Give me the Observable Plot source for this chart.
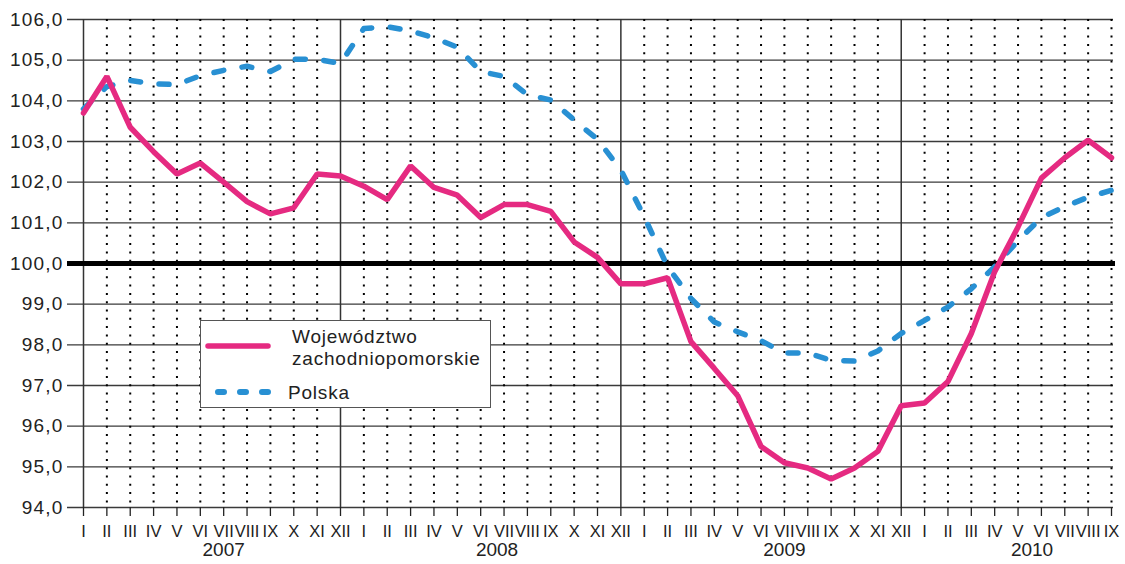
<!DOCTYPE html>
<html>
<head>
<meta charset="utf-8">
<script src="https://cdn.jsdelivr.net/npm/d3@7"></script>
<script src="https://cdn.jsdelivr.net/npm/@observablehq/plot@0.6"></script>
<style>
  body { margin: 0; background: #fff; }
  #wrap { position: relative; width: 1125px; height: 564px; font-family: "Liberation Sans", Arial, sans-serif; color: #222; }
  #legend { position: absolute; left: 200px; top: 320px; width: 291px; height: 88px; box-sizing: border-box; border: 1px solid #555; background: #fff; }
  #legend svg { position: absolute; left: -1px; top: -1px; overflow: visible; }
</style>
</head>
<body>
<div id="wrap"><div id="legend"></div></div>
<script>
// ---- data ----
const romanMonths = ["I","II","III","IV","V","VI","VII","VIII","IX","X","XI","XII"];
const years = ["2007", "2008", "2009", "2010"];
const monthsPerYear = [12, 12, 12, 9];
const yearLabelMonth = [6, 17.7, 30, 40.6]; // month index under which each year label sits
const seriesNames = ["Województwo\nzachodniopomorskie", "Polska"];

const wojewodztwo = [
  103.70, 104.60, 103.35, 102.75, 102.20, 102.47, 102.00, 101.52, 101.22, 101.37, 102.20, 102.15,
  101.90, 101.57, 102.40, 101.87, 101.68, 101.13, 101.45, 101.45, 101.28, 100.53, 100.15, 99.50,
  99.50, 99.65, 98.08, 97.42, 96.75, 95.50, 95.10, 94.97, 94.70, 94.97, 95.38, 96.50,
  96.57, 97.10, 98.28, 99.80, 100.90, 102.10, 102.60, 103.03, 102.60
];
const polska = [
  103.80, 104.35, 104.50, 104.42, 104.40, 104.62, 104.75, 104.85, 104.72, 105.02, 105.02, 104.92,
  105.78, 105.82, 105.72, 105.55, 105.32, 104.72, 104.60, 104.15, 104.02, 103.53, 103.05, 102.30,
  101.15, 99.92, 99.14, 98.56, 98.32, 98.10, 97.80, 97.80, 97.62, 97.60, 97.85, 98.28,
  98.60, 98.93, 99.38, 99.92, 100.56, 101.13, 101.40, 101.63, 101.80
];
const yTicks = [94, 95, 96, 97, 98, 99, 100, 101, 102, 103, 104, 105, 106];
const baseline = 100;

// ---- derived ----
const monthLabels = monthsPerYear.flatMap(n => romanMonths.slice(0, n));
const idx = d3.range(monthLabels.length);
const boundaries = idx.filter(i => i === 0 || monthLabels[i] === "XII");
const dotted = idx.filter(i => !boundaries.includes(i));
const wojRows = wojewodztwo.map((v, i) => ({i, v}));
const polRows = polska.map((v, i) => ({i, v}));
const yearRows = years.map((y, k) => ({y, x: yearLabelMonth[k]}));

const pink = "#e52a81";
const blue = "#2890d3";

const chart = Plot.plot({
  width: 1125,
  height: 564,
  marginLeft: 83,
  marginRight: 14,
  marginTop: 19,
  marginBottom: 57,
  x: {domain: [0, idx.length - 1], label: null},
  y: {domain: [yTicks[0], yTicks[yTicks.length - 1]], label: null},
  style: {fontFamily: '"Liberation Sans", Arial, sans-serif', fontSize: "19px", color: "#222", background: "#fff", overflow: "visible"},
  marks: [
    Plot.ruleY(yTicks, {stroke: "#3a3a3a", strokeWidth: 1.3, insetLeft: -16, insetRight: -2}),
    Plot.ruleX(dotted, {stroke: "#000", strokeWidth: 2, strokeDasharray: "2,6.3"}),
    Plot.ruleX(boundaries, {stroke: "#333", strokeWidth: 1.5}),
    Plot.axisX({ticks: idx, tickFormat: i => monthLabels[i], label: null, tickSize: 9, tickPadding: 9, fontSize: 16.5, stroke: "#222", strokeWidth: 1.3}),
    Plot.axisY({ticks: yTicks, tickFormat: d => d.toFixed(1).replace(".", ","), label: null, tickSize: 0, tickPadding: 20, fontSize: 19}),
    Plot.ruleY([baseline], {stroke: "#000", strokeWidth: 5, insetLeft: -16, insetRight: -4}),
    Plot.line(polRows, {x: "i", y: "v", stroke: blue, strokeWidth: 5.5, strokeDasharray: "10,18.5", strokeLinecap: "round"}),
    Plot.line(wojRows, {x: "i", y: "v", stroke: pink, strokeWidth: 5.5, strokeLinejoin: "miter"}),
    Plot.text(yearRows, {x: "x", text: "y", frameAnchor: "bottom", dy: 48, fontSize: 19, fill: "#222"})
  ]
});

d3.select(chart).selectAll('g[aria-label="y-axis tick label"] text').style("letter-spacing", "1.2px");
document.getElementById("wrap").prepend(chart);

// ---- legend ----
const lg = d3.select("#legend").append("svg").attr("width", 291).attr("height", 88)
  .style("font-family", '"Liberation Sans", Arial, sans-serif').style("font-size", "19px");
lg.append("line").attr("x1", 8).attr("x2", 68).attr("y1", 26).attr("y2", 26)
  .attr("stroke", pink).attr("stroke-width", 5.5).attr("stroke-linecap", "round");
lg.append("line").attr("x1", 18).attr("x2", 72).attr("y1", 72).attr("y2", 72)
  .attr("stroke", blue).attr("stroke-width", 6).attr("stroke-linecap", "round").attr("stroke-dasharray", "6,16");
const t1 = lg.append("text").attr("x", 92).attr("fill", "#222").style("letter-spacing", "0.8px");
seriesNames[0].split("\n").forEach((s, k) => t1.append("tspan").attr("x", 92).attr("y", 23 + k * 22).text(s));
lg.append("text").attr("x", 88).attr("y", 79).attr("fill", "#222").style("letter-spacing", "0.8px").text(seriesNames[1]);
</script>
</body>
</html>
